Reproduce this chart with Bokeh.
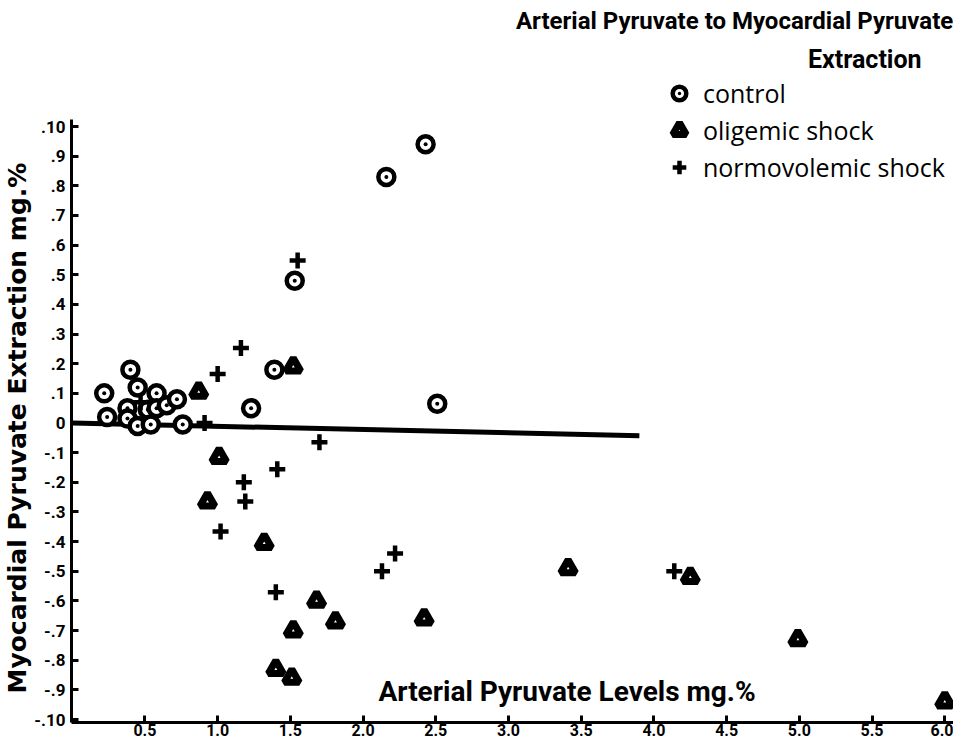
from bokeh.plotting import figure
from bokeh.models import Range1d, FixedTicker, Label, Legend, LegendItem, Title
from bokeh.embed import file_html
from bokeh.resources import INLINE

# ---------------- data ----------------
control_x = [0.22, 0.24, 0.40, 0.38, 0.38, 0.45, 0.58, 0.52, 0.58, 0.65, 0.72,
             0.45, 0.54, 0.76, 1.39, 1.23, 1.53, 2.16, 2.43, 2.51]
control_y = [0.10, 0.02, 0.18, 0.05, 0.015, 0.12, 0.10, 0.045, 0.05, 0.06, 0.08,
             -0.01, -0.005, -0.005, 0.18, 0.05, 0.48, 0.83, 0.94, 0.065]

oligemic_x = [0.87, 1.52, 1.01, 0.93, 1.32, 1.68, 1.81, 1.52, 1.40, 1.51,
              2.42, 3.41, 4.25, 4.99, 6.00]
oligemic_y = [0.105, 0.19, -0.115, -0.265, -0.405, -0.60, -0.67, -0.70, -0.83, -0.86,
              -0.66, -0.49, -0.52, -0.73, -0.94]

normo_x = [0.47, 0.91, 1.00, 1.16, 1.55, 1.70, 1.41, 1.18, 1.19, 1.02,
           1.40, 2.13, 2.22, 4.14]
normo_y = [0.07, 0.0, 0.165, 0.253, 0.548, -0.065, -0.156, -0.20, -0.265, -0.366,
           -0.571, -0.50, -0.44, -0.50]

zero_line_x = [0.0, 3.9]
zero_line_y = [0.0, -0.043]

x_ticks = [0.5, 1.0, 1.5, 2.0, 2.5, 3.0, 3.5, 4.0, 4.5, 5.0, 5.5, 6.0]
x_tick_labels = ["0.5", "1.0", "1.5", "2.0", "2.5", "3.0", "3.5", "4.0", "4.5", "5.0", "5.5", "6.0"]

y_ticks = [1.0, 0.9, 0.8, 0.7, 0.6, 0.5, 0.4, 0.3, 0.2, 0.1, 0.0,
           -0.1, -0.2, -0.3, -0.4, -0.5, -0.6, -0.7, -0.8, -0.9, -1.0]
y_tick_labels = [".10", ".9", ".8", ".7", ".6", ".5", ".4", ".3", ".2", ".1", "0",
                 "-.1", "-.2", "-.3", "-.4", "-.5", "-.6", "-.7", "-.8", "-.9", "-.10"]

title_line1 = "Arterial Pyruvate to Myocardial Pyruvate"
title_line2 = "Extraction"
x_title = "Arterial  Pyruvate Levels  mg.%"
y_title = "Myocardial Pyruvate Extraction mg.%"
series_names = ["control", "oligemic shock", "normovolemic shock"]

NARROW = "Liberation Sans Narrow, Roboto, sans-serif"
SANS = "Open Sans, sans-serif"
WIDE = "DejaVu Sans, sans-serif"

# ---------------- figure ----------------
p = figure(width=953, height=742, output_backend="svg", toolbar_location=None,
           x_range=Range1d(-0.005, 6.06), y_range=Range1d(-1.01, 1.425),
           min_border_left=70, min_border_right=0, min_border_top=0,
           min_border_bottom=20)
p.outline_line_color = None
p.grid.visible = False
p.background_fill_color = "white"
p.border_fill_color = "white"

# x axis
xa = p.xaxis[0]
xa.ticker = FixedTicker(ticks=x_ticks)
xa.major_label_overrides = dict(zip(x_ticks, x_tick_labels))
xa.axis_line_width = 3
xa.axis_line_color = "black"
xa.major_tick_in = 7
xa.major_tick_out = 0
xa.minor_tick_in = 0
xa.minor_tick_out = 0
xa.major_tick_line_width = 3
xa.minor_tick_line_color = None
xa.major_label_text_font = NARROW
xa.major_label_text_font_style = "bold"
xa.major_label_text_font_size = "16px"
xa.major_label_text_color = "black"
xa.major_label_standoff = 1

# y axis
ya = p.yaxis[0]
ya.ticker = FixedTicker(ticks=y_ticks)
ya.major_label_overrides = dict(zip(y_ticks, y_tick_labels))
ya.bounds = (-1.01, 1.022)
ya.axis_line_width = 3
ya.axis_line_color = "black"
ya.major_tick_in = 7
ya.major_tick_out = 0
ya.minor_tick_in = 0
ya.minor_tick_out = 0
ya.major_tick_line_width = 3
ya.minor_tick_line_color = None
ya.major_label_text_font = NARROW
ya.major_label_text_font_style = "bold"
ya.major_label_text_font_size = "17px"
ya.major_label_text_color = "black"
ya.major_label_standoff = 6

# y axis title, placed along the left side
p.add_layout(Title(text=y_title, align="left", offset=29, standoff=0,
                   text_font=WIDE, text_font_style="bold", text_font_size="25px",
                   text_color="black"), "left")

# zero reference line
p.line(zero_line_x, zero_line_y, line_width=5, line_color="black")

# series
r_ctrl = p.scatter(control_x, control_y, marker="circle_dot", size=16,
                   fill_color="white", line_color="black", line_width=4.5)
r_olig = p.scatter(oligemic_x, oligemic_y, marker="triangle", size=15,
                   fill_color="white", line_color="black", line_width=7)
r_norm = p.scatter(normo_x, normo_y, marker="cross", size=16,
                   line_color="black", line_width=4.5)

legend = Legend(items=[LegendItem(label=series_names[0], renderers=[r_ctrl]),
                       LegendItem(label=series_names[1], renderers=[r_olig]),
                       LegendItem(label=series_names[2], renderers=[r_norm])],
                location=(591, 538), border_line_color=None,
                background_fill_alpha=0, padding=0, margin=0,
                glyph_width=34, glyph_height=34, label_height=34,
                spacing=3, label_standoff=7,
                label_text_font=SANS, label_text_font_size="25px",
                label_text_color="black")
p.add_layout(legend, "center")

# titles
p.add_layout(Label(x=6.058, y=1.355, text=title_line1, text_align="right",
                   text_baseline="middle", text_font=NARROW, text_font_style="bold",
                   text_font_size="24px", text_color="black"))
p.add_layout(Label(x=5.45, y=1.226, text=title_line2, text_align="center",
                   text_baseline="middle", text_font=NARROW, text_font_style="bold",
                   text_font_size="25px", text_color="black"))
p.add_layout(Label(x=3.45, y=-0.907, text=x_title, text_align="center",
                   text_baseline="middle", text_font=NARROW, text_font_style="bold",
                   text_font_size="28px", text_color="black"))

open("out.html", "w").write(file_html(p, INLINE))
